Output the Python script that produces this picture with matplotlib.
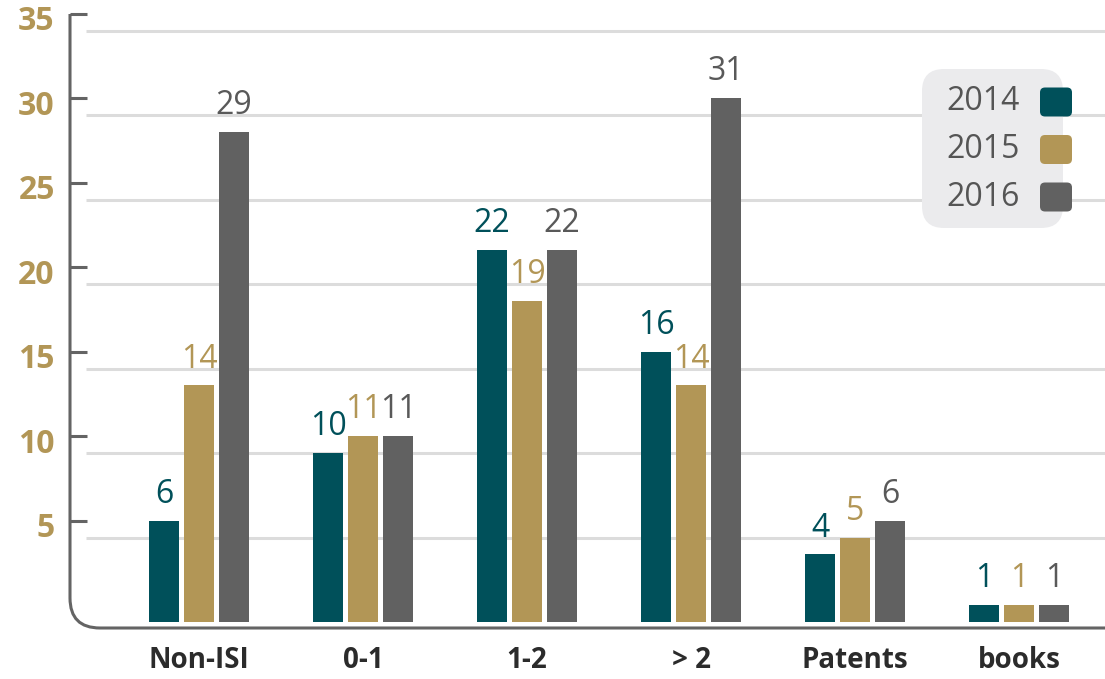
import matplotlib
matplotlib.use('Agg')
import matplotlib.pyplot as plt
import matplotlib.transforms as mtransforms
from matplotlib.path import Path
from matplotlib.patches import PathPatch, FancyBboxPatch
import numpy as np

plt.rcParams['font.family'] = ['Open Sans', 'DejaVu Sans']

categories = ['Non-ISI', '0-1', '1-2', '> 2', 'Patents', 'books']
years = ['2014', '2015', '2016']
v2014 = [6, 10, 22, 16, 4, 1]
v2015 = [14, 11, 19, 14, 5, 1]
v2016 = [29, 11, 22, 31, 6, 1]
yticks = [5, 10, 15, 20, 25, 30, 35]

bar_colors = ['#00505A', '#B29656', '#616161']
text_colors = ['#00505A', '#B29656', '#595959']

W, H = 1105, 679
fig = plt.figure(figsize=(W / 100, H / 100), dpi=100)
# pixel (image coords, y down) -> figure fraction
pxt = mtransforms.Affine2D().scale(1 / W, 1 / H) + fig.transFigure

ax = fig.add_axes([70 / W, (H - 628) / H, (W - 70) / W, (628 - 14) / H])
unit = 16.9
ax.set_ylim(-6 / unit, (622 - 14) / unit)
step = 164
ax.set_xlim((70 - 199) / step, (W - 199) / step)
for s in ax.spines.values():
    s.set_visible(False)

x = np.arange(len(categories))
bw = 30 / step
off = 35 / step
for i, vals in enumerate([v2014, v2015, v2016]):
    xs = x + (i - 1) * off
    ax.bar(xs, vals, width=bw, color=bar_colors[i], zorder=3)
    for xi, v in zip(xs, vals):
        ax.annotate(str(v), (xi, v), xytext=(0, 7), textcoords='offset points',
                    ha='center', va='bottom', fontsize=23, color=text_colors[i])

# grid
ax.hlines(yticks, 16 / (W - 70), 1, transform=ax.get_yaxis_transform(),
          colors='#DCDCDC', lw=2.2, zorder=1)

ax.set_xticks(x)
ax.set_xticklabels(categories)
ax.tick_params(axis='x', length=0, pad=13, labelsize=20, labelcolor='#2B2B2B')
for lab in ax.get_xticklabels():
    lab.set_fontweight('bold')

ax.set_yticks(yticks)
ax.set_yticklabels([str(t) for t in yticks])
ax.tick_params(axis='y', direction='in', length=12, width=2.2, color='#646464',
               pad=11, labelsize=23, labelcolor='#B29656')
tick_shift = mtransforms.ScaledTranslation(0, 17 / 100, fig.dpi_scale_trans)
lab_shift = mtransforms.ScaledTranslation(0, 13 / 100, fig.dpi_scale_trans)
for t in ax.yaxis.get_major_ticks():
    t.tick1line.set_transform(t.tick1line.get_transform() + tick_shift)
    t.label1.set_transform(t.label1.get_transform() + lab_shift)
    t.label1.set_fontweight('bold')

# axis line with rounded corner
verts = [(70, H - 14), (70, H - 598), (70, H - 628), (100, H - 628), (W, H - 628)]
codes = [Path.MOVETO, Path.LINETO, Path.CURVE3, Path.CURVE3, Path.LINETO]
fig.add_artist(PathPatch(Path(verts, codes), transform=pxt, fill=False,
                         edgecolor='#646464', lw=2.2, capstyle='butt'))

# legend
fig.add_artist(FancyBboxPatch((922, H - 228), 141, 159,
                              boxstyle='round,pad=0,rounding_size=22',
                              transform=pxt, facecolor='#EBEBED', edgecolor='none'))
for i, yr in enumerate(years):
    yc = 102 + 47.5 * i
    fig.text(1020 / W, (H - yc) / H, yr, ha='right', va='center',
             fontsize=23, color='#555555')
    fig.add_artist(FancyBboxPatch((1040, H - yc - 14.5), 32, 29,
                                  boxstyle='round,pad=0,rounding_size=5',
                                  transform=pxt, facecolor=bar_colors[i],
                                  edgecolor='none'))

fig.savefig('out.png', dpi=100)
